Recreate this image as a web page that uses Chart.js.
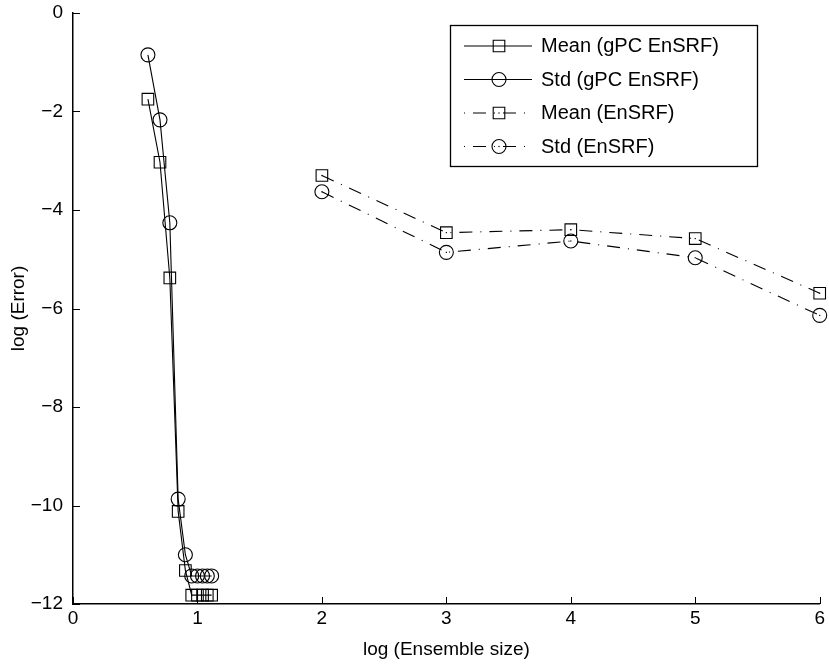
<!DOCTYPE html>
<html>
<head>
<meta charset="utf-8">
<script src="https://cdn.jsdelivr.net/npm/chart.js@4.4.1/dist/chart.umd.min.js"></script>
<style>
  html, body { margin: 0; padding: 0; background: #ffffff; }
  #wrap { width: 829px; height: 668px; }
</style>
</head>
<body>
<div id="wrap"><canvas id="c" width="829" height="668"></canvas></div>
<script>
// ---- data ----
const gpcX    = [0.602, 0.699, 0.778, 0.845, 0.903, 0.954, 1.000, 1.041, 1.079, 1.114];
const gpcMean = [-1.75, -3.03, -5.38, -10.12, -11.32, -11.82, -11.82, -11.82, -11.82, -11.82];
const gpcStd  = [-0.85, -2.17, -4.26, -9.87, -11.00, -11.43, -11.43, -11.43, -11.43, -11.43];
const ensX    = [2, 3, 4, 5, 6];
const ensMean = [-3.30, -4.46, -4.40, -4.58, -5.69];
const ensStd  = [-3.63, -4.86, -4.63, -4.97, -6.14];
const seriesLabels = ['Mean (gPC EnSRF)', 'Std (gPC EnSRF)', 'Mean (EnSRF)', 'Std (EnSRF)'];
const xTicks = [0, 1, 2, 3, 4, 5, 6];
const yTicks = [0, -2, -4, -6, -8, -10, -12];
const xTitle = 'log (Ensemble size)';
const yTitle = 'log (Error)';

const FONT = '"Liberation Sans", Arial, Helvetica, sans-serif';
const DASHDOT = [13, 8, 1, 8];

function pts(xs, ys) { return xs.map((x, i) => ({ x: x, y: ys[i] })); }

function mk(label, data, style, dash) {
  return {
    label: label,
    data: data,
    borderColor: '#000',
    backgroundColor: 'rgba(0,0,0,0)',
    borderWidth: 1.1,
    borderDash: dash,
    pointStyle: style,
    pointRadius: style === 'rect' ? 8.2 : 7,
    pointHoverRadius: style === 'rect' ? 8.2 : 7,
    pointBorderColor: '#000',
    pointBackgroundColor: 'rgba(0,0,0,0)',
    pointBorderWidth: 1.1,
    tension: 0,
    fill: false,
    clip: false
  };
}

function drawMarker(ctx, style, x, y) {
  ctx.beginPath();
  if (style === 'rect') {
    const s = 8.2 * Math.SQRT1_2;
    ctx.rect(x - s, y - s, 2 * s, 2 * s);
  } else {
    ctx.arc(x, y, 7, 0, Math.PI * 2);
  }
  ctx.stroke();
}

const overlay = {
  id: 'overlay',
  afterDraw(chart) {
    const ctx = chart.ctx;
    const { left, right, top, bottom } = chart.chartArea;
    const xs = chart.scales.x, ys = chart.scales.y;
    ctx.save();
    ctx.strokeStyle = '#000';
    ctx.fillStyle = '#000';
    ctx.lineWidth = 1;
    // inward tick marks
    xTicks.forEach(v => {
      const p = Math.round(xs.getPixelForValue(v)) + 0.5;
      ctx.beginPath(); ctx.moveTo(p, bottom); ctx.lineTo(p, bottom - 7); ctx.stroke();
    });
    yTicks.forEach(v => {
      const p = Math.round(ys.getPixelForValue(v)) + 0.5;
      ctx.beginPath(); ctx.moveTo(left, p); ctx.lineTo(left + 7, p); ctx.stroke();
    });
    // small centre dots on EnSRF markers
    [2, 3].forEach(di => {
      chart.getDatasetMeta(di).data.forEach(pt => {
        ctx.fillRect(pt.x - 0.6, pt.y - 0.6, 1.2, 1.2);
      });
    });
    // legend box
    const bx = 450.5, by = 25.5, bw = 307, bh = 141;
    ctx.fillStyle = '#fff';
    ctx.fillRect(bx, by, bw, bh);
    ctx.lineWidth = 1.3;
    ctx.strokeStyle = '#000';
    ctx.strokeRect(bx, by, bw, bh);
    ctx.lineWidth = 1.1;
    const rows = [45.5, 79, 112.5, 146];
    const ds = chart.data.datasets;
    rows.forEach((ry, i) => {
      const d = ds[i];
      ctx.save();
      ctx.setLineDash(d.borderDash || []);
      if (d.borderDash && d.borderDash.length) ctx.lineDashOffset = 21;
      ctx.beginPath(); ctx.moveTo(464, ry + 0.5); ctx.lineTo(532, ry + 0.5); ctx.stroke();
      ctx.restore();
      ctx.setLineDash([]);
      drawMarker(ctx, d.pointStyle, 499, ry + 0.5);
      if (i >= 2) { ctx.fillStyle = '#000'; ctx.fillRect(498.4, ry - 0.1, 1.2, 1.2); }
      ctx.fillStyle = '#000';
      ctx.font = '20px ' + FONT;
      ctx.textAlign = 'left';
      ctx.textBaseline = 'middle';
      ctx.fillText(d.label, 541, ry + 1);
    });
    ctx.restore();
  }
};

function fmt(v) {
  return v < 0 ? '\u2212' + Math.abs(v) : String(v);
}

new Chart(document.getElementById('c'), {
  type: 'line',
  data: {
    datasets: [
      mk(seriesLabels[0], pts(gpcX, gpcMean), 'rect', []),
      mk(seriesLabels[1], pts(gpcX, gpcStd), 'circle', []),
      mk(seriesLabels[2], pts(ensX, ensMean), 'rect', DASHDOT),
      mk(seriesLabels[3], pts(ensX, ensStd), 'circle', DASHDOT)
    ]
  },
  options: {
    responsive: false,
    animation: false,
    events: [],
    layout: { padding: { left: 0, right: 3, top: 13, bottom: 0 } },
    plugins: { legend: { display: false }, tooltip: { enabled: false } },
    scales: {
      x: {
        type: 'linear', min: 0, max: 6,
        afterBuildTicks(s) { s.ticks = xTicks.map(v => ({ value: v })); },
        afterFit(s) { s.height = 64; s.paddingLeft = 0; s.paddingRight = 0; },
        grid: { display: false, drawTicks: false },
        border: { display: true, color: '#000', width: 1.5 },
        ticks: { color: '#000', padding: 3, font: { family: FONT, size: 19 }, callback: v => fmt(v), maxRotation: 0, autoSkip: false },
        title: { display: true, text: xTitle, color: '#000', font: { family: FONT, size: 19 }, padding: { top: 7, bottom: 7 } }
      },
      y: {
        type: 'linear', min: -12, max: 0,
        afterBuildTicks(s) { s.ticks = yTicks.slice().reverse().map(v => ({ value: v })); },
        afterFit(s) { s.width = 73; s.paddingTop = 0; s.paddingBottom = 0; },
        grid: { display: false, drawTicks: false },
        border: { display: true, color: '#000', width: 1.5 },
        ticks: { color: '#000', padding: 10, font: { family: FONT, size: 19 }, callback: v => fmt(v), autoSkip: false },
        title: { display: true, text: yTitle, color: '#000', font: { family: FONT, size: 19 }, padding: { top: 7, bottom: 7 } }
      }
    }
  },
  plugins: [overlay]
});
</script>
</body>
</html>
